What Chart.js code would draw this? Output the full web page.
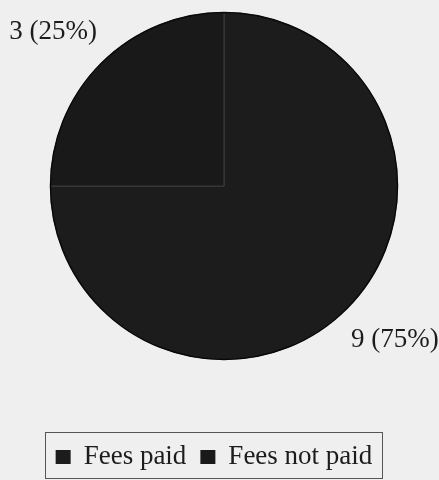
<!DOCTYPE html>
<html>
<head>
<meta charset="utf-8">
<script src="https://cdn.jsdelivr.net/npm/chart.js@4"></script>
<style>
  html, body { margin: 0; padding: 0; background: #efefef; }
  #wrap { width: 439px; height: 480px; }
</style>
</head>
<body>
<div id="wrap"><canvas id="fees"></canvas></div>
<script>
const labels = ['Fees paid', 'Fees not paid'];
const counts = [9, 3];
const colors = ['#1c1c1c', '#191919'];

const serif = '"Liberation Serif", "Times New Roman", serif';

// value labels outside each slice, e.g. "3 (25%)"
const sliceLabels = {
  id: 'sliceLabels',
  afterDatasetsDraw(chart) {
    const ctx = chart.ctx;
    const meta = chart.getDatasetMeta(0);
    const data = chart.data.datasets[0].data;
    const total = data.reduce((a, b) => a + b, 0);
    ctx.save();
    // dark rim round the pie
    const a0 = meta.data[0];
    ctx.beginPath();
    ctx.arc(a0.x, a0.y, a0.outerRadius, 0, Math.PI * 2);
    ctx.strokeStyle = '#080808';
    ctx.lineWidth = 1.5;
    ctx.stroke();

    ctx.font = '27px ' + serif;
    ctx.fillStyle = '#1c1c1c';
    ctx.textAlign = 'center';
    ctx.textBaseline = 'middle';
    meta.data.forEach((arc, i) => {
      const mid = (arc.startAngle + arc.endAngle) / 2;
      const x = arc.x + Math.cos(mid) * (arc.outerRadius + 68);
      const y = arc.y + Math.sin(mid) * (arc.outerRadius + 44);
      const pct = Math.round(data[i] / total * 100);
      ctx.fillText(`${data[i]} (${pct}%)`, x, y);
    });
    ctx.restore();
  }
};

// boxed legend under the pie
const boxLegend = {
  id: 'boxLegend',
  afterDraw(chart) {
    const ctx = chart.ctx;
    const ds = chart.data.datasets[0];
    ctx.save();
    ctx.font = '27px ' + serif;
    const box = 15, gap = 13, itemGap = 14;
    let widths = chart.data.labels.map(t => box + gap + ctx.measureText(t).width);
    let total = widths.reduce((a, b) => a + b, 0) + itemGap * (widths.length - 1);
    const cx = 214, cy = 456;
    let x = cx - total / 2;

    ctx.strokeStyle = '#555555';
    ctx.lineWidth = 1;
    ctx.strokeRect(45.5, 432.5, 337, 46);

    ctx.textBaseline = 'middle';
    ctx.textAlign = 'left';
    chart.data.labels.forEach((t, i) => {
      ctx.fillStyle = ds.backgroundColor[i];
      ctx.fillRect(x, cy - 6, box, 14);
      ctx.fillStyle = '#1c1c1c';
      ctx.fillText(t, x + box + gap, cy + 1);
      x += widths[i] + itemGap;
    });
    ctx.restore();
  }
};

new Chart(
  document.getElementById('fees'),
  {
    type: 'pie',
    data: {
      labels: labels,
      datasets: [
        {
          data: counts,
          backgroundColor: colors,
          borderColor: '#3c3c3c',
          borderWidth: 1
        }
      ]
    },
    options: {
      responsive: true,
      maintainAspectRatio: false,
      animation: false,
      layout: {
        padding: { left: 38, right: 29, top: 12, bottom: 120 }
      },
      plugins: {
        legend: { display: false },
        tooltip: { enabled: false }
      }
    },
    plugins: [sliceLabels, boxLegend]
  }
);
</script>
</body>
</html>
